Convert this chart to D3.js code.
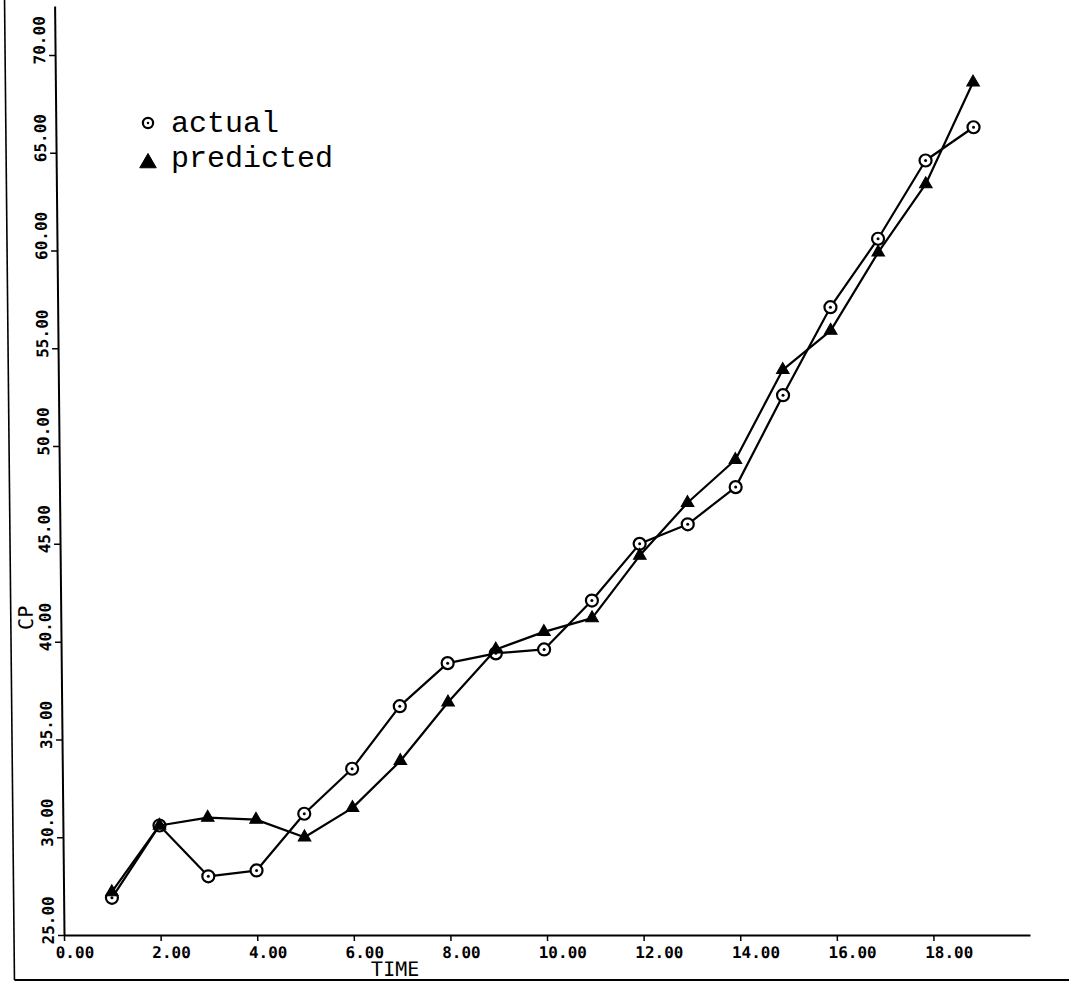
<!DOCTYPE html>
<html>
<head>
<meta charset="utf-8">
<script src="https://cdn.jsdelivr.net/npm/d3@7"></script>
<style>
	body { margin: 0; background: #fff; }
	svg { display: block; }
	.tick text { font-family: "DejaVu Sans Mono", monospace; font-size: 16px; font-weight: bold; fill: #000; }
	.axis-title { font-family: "DejaVu Sans Mono", monospace; font-size: 20px; fill: #000; }
	.legend-label { font-family: "Liberation Mono", monospace; font-size: 30px; fill: #000; }
</style>
</head>
<body>
<div id="chart"></div>
<script>

// values
let g_time = [1, 2, 3, 4, 5, 6, 7, 8, 9, 10, 11, 12, 13, 14, 15, 16, 17, 18, 19];
let g_actual = [26.9, 30.6, 28.0, 28.3, 31.2, 33.5, 36.7, 38.9, 39.4, 39.6, 42.1, 45.0, 46.0, 47.9, 52.6, 57.1, 60.6, 64.6, 66.3];
let g_predicted = [27.2, 30.6, 31.0, 30.9, 30.0, 31.5, 33.9, 36.9, 39.6, 40.5, 41.2, 44.4, 47.1, 49.3, 53.9, 55.9, 59.9, 63.4, 68.6];
let g_xTicks = [0, 2, 4, 6, 8, 10, 12, 14, 16, 18];
let g_yTicks = [25, 30, 35, 40, 45, 50, 55, 60, 65, 70];
let g_legend = ["actual", "predicted"];

const WIDTH = 1069;
const HEIGHT = 983;
const AXIS_Y = 935;
const SKEW = 0.58; // the scan is sheared a little, verticals lean left

let x = d3.scaleLinear().domain([0, 20]).range([64, 1030]);
let y = d3.scaleLinear().domain([25, 72.5]).range([AXIS_Y, 6]);

function drawChart(){
	let svg = d3.select("#chart").append("svg")
		.attr("width", WIDTH)
		.attr("height", HEIGHT);

	let g = svg.append("g")
		.attr("transform", `translate(0,${AXIS_Y}) skewX(${SKEW}) translate(0,${-AXIS_Y})`);

	drawFrame(g);
	drawAxes(g);
	drawSeries(g, g_actual, "circle");
	drawSeries(g, g_predicted, "triangle");
	drawLegend(svg);
}

function drawFrame(g){
	g.append("line")
		.attr("x1", 14).attr("x2", 14)
		.attr("y1", 0).attr("y2", 980)
		.attr("stroke", "#000").attr("stroke-width", 1.6);
	g.append("line")
		.attr("x1", 14).attr("x2", WIDTH)
		.attr("y1", 980).attr("y2", 980)
		.attr("stroke", "#000").attr("stroke-width", 2);
}

function drawAxes(g){
	let xAxis = d3.axisBottom(x)
		.tickValues(g_xTicks)
		.tickFormat(d3.format(".2f"))
		.tickSize(6)
		.tickSizeOuter(0);

	let gx = g.append("g")
		.attr("transform", `translate(0,${AXIS_Y})`)
		.call(xAxis);
	gx.select(".domain").attr("stroke-width", 2);
	gx.selectAll(".tick line").attr("stroke-width", 1.5);
	gx.selectAll(".tick text")
		.attr("text-anchor", "start")
		.attr("x", -9)
		.attr("y", 23)
		.attr("dy", null);

	let yAxis = d3.axisLeft(y)
		.tickValues(g_yTicks)
		.tickFormat(d3.format(".2f"))
		.tickSize(6)
		.tickSizeOuter(0);

	let gy = g.append("g")
		.attr("transform", `translate(${x(0)},0)`)
		.call(yAxis);
	gy.select(".domain").attr("stroke-width", 2);
	gy.selectAll(".tick line").attr("stroke-width", 1.5);
	gy.selectAll(".tick text")
		.attr("text-anchor", "start")
		.attr("x", null)
		.attr("dy", null)
		.attr("transform", "translate(-10,9) rotate(-90)");

	g.append("text")
		.attr("class", "axis-title")
		.attr("transform", `translate(${x(0) - 28},${y(40.6)}) rotate(-90)`)
		.text("CP");

	g.append("text")
		.attr("class", "axis-title")
		.attr("font-size", 17)
		.attr("x", x(6.35))
		.attr("y", AXIS_Y + 41)
		.text("TIME");
}

function drawSeries(g, values, shape){
	let points = g_time.map(function(t, i){ return [t, values[i]]; });

	let line = d3.line()
		.x(d => x(d[0]))
		.y(d => y(d[1]));

	g.append("path")
		.datum(points)
		.attr("d", line)
		.attr("fill", "none")
		.attr("stroke", "#000")
		.attr("stroke-width", 2.2)
		.attr("stroke-linejoin", "round");

	let marks = g.append("g").selectAll("g")
		.data(points)
		.join("g")
		.attr("transform", d => `translate(${x(d[0])},${y(d[1])})`);
	drawMarker(marks, shape, 1);
}

function drawMarker(sel, shape, scale){
	if (shape == "circle"){
		sel.append("circle")
			.attr("r", 6 * scale)
			.attr("fill", "#fff")
			.attr("stroke", "#000")
			.attr("stroke-width", 2.2);
		sel.append("circle")
			.attr("r", 1.5 * scale)
			.attr("fill", "#000");
	} else {
		sel.append("path")
			.attr("d", d3.symbol(d3.symbolTriangle, 70 * scale * scale))
			.attr("fill", "#000")
			.attr("stroke", "#000")
			.attr("stroke-width", 1);
	}
}

function drawLegend(svg){
	let rows = svg.append("g").selectAll("g")
		.data(g_legend)
		.join("g")
		.attr("transform", (d, i) => `translate(148,${i == 0 ? 123 : 163})`);

	rows.each(function(d, i){
		drawMarker(d3.select(this), i == 0 ? "circle" : "triangle", i == 0 ? 0.85 : 1.3);
	});

	rows.append("text")
		.attr("class", "legend-label")
		.attr("x", 23)
		.attr("y", (d, i) => i == 0 ? 9 : 4)
		.text(d => d);
}

drawChart();

</script>
</body>
</html>
